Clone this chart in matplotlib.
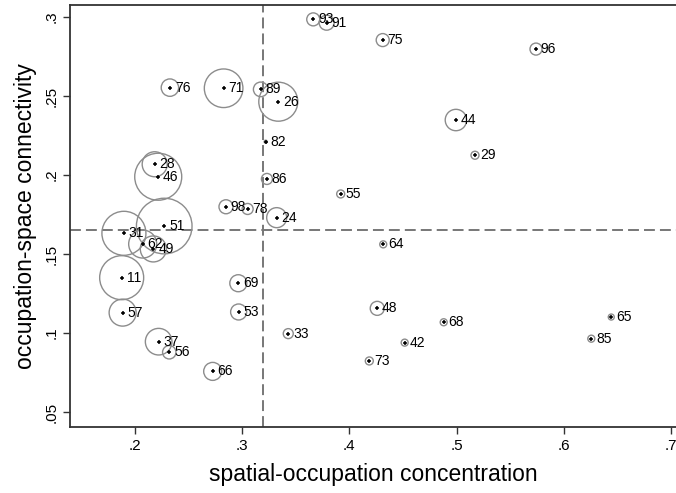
import numpy as np
import matplotlib.pyplot as plt

plt.rcParams['font.family'] = ['Liberation Sans', 'DejaVu Sans']

# 地區編號、座標與權重（圈的半徑，像素）
labels = ['93', '91', '75', '96', '44', '29', '55', '76', '71', '89', '26', '82',
          '28', '46', '86', '98', '78', '24', '51', '31', '62', '49', '11', '69',
          '57', '53', '33', '37', '56', '66', '64', '48', '68', '42', '73', '65', '85']
x = [0.3663, 0.3788, 0.4311, 0.5741, 0.4994, 0.5172, 0.3919, 0.2326, 0.2827, 0.3173,
     0.3337, 0.3219, 0.2184, 0.2217, 0.3231, 0.2849, 0.3051, 0.3322, 0.2273, 0.1897,
     0.2072, 0.2171, 0.1876, 0.2964, 0.1885, 0.2967, 0.3430, 0.2221, 0.2320, 0.2725,
     0.4316, 0.4260, 0.4880, 0.4516, 0.4186, 0.6443, 0.6257]
y = [0.2985, 0.2964, 0.2854, 0.2797, 0.2348, 0.2125, 0.1880, 0.2553, 0.2549, 0.2542,
     0.2464, 0.2211, 0.2068, 0.1989, 0.1975, 0.1799, 0.1785, 0.1730, 0.1677, 0.1631,
     0.1563, 0.1532, 0.1350, 0.1315, 0.1129, 0.1133, 0.0996, 0.0945, 0.0878, 0.0757,
     0.1561, 0.1156, 0.1068, 0.0939, 0.0823, 0.1101, 0.0964]
radius = [6.5, 7.5, 6.5, 6, 10.7, 4, 4, 8.7, 19.3, 7.3, 19.5, 1.5, 12.5, 23.5, 5.5,
          7, 5.5, 10, 27.8, 22, 14, 13, 22, 8.5, 13.5, 8, 5, 13.3, 6.7, 9, 3.5, 7,
          3.5, 3.5, 4, 3, 3.5]

x_mean = 0.3197
y_mean = 0.1652

fig = plt.figure(figsize=(6.76, 4.93), dpi=100)
ax = fig.add_axes([70/676, 66/493, 1 - 70/676, (427 - 5)/493])

r = np.array(radius)
sizes = (2 * r * 72 / 100) ** 2
ax.scatter(x, y, s=sizes, facecolors='none', edgecolors='#8c8c8c', linewidths=1.0, zorder=2)
ax.scatter(x, y, s=12, marker='+', color='black', linewidths=1.1, zorder=3)
for xi, yi, lab in zip(x, y, labels):
    ax.annotate(lab, (xi, yi), xytext=(3.5, 0), textcoords='offset points',
                va='center', ha='left', fontsize=10, zorder=4)

ax.axvline(x_mean, color='#777777', lw=1.4, ls=(0, (5.6, 2.6)), zorder=1)
ax.axhline(y_mean, color='#777777', lw=1.4, ls=(0, (5.6, 2.6)), zorder=1)

ax.set_xlim(0.1394, 0.7047)
ax.set_ylim(0.0405, 0.3076)
ax.set_xticks([0.2, 0.3, 0.4, 0.5, 0.6, 0.7])
ax.set_xticklabels(['.2', '.3', '.4', '.5', '.6', '.7'])
ax.set_yticks([0.05, 0.1, 0.15, 0.2, 0.25, 0.3])
ax.set_yticklabels(['.05', '.1', '.15', '.2', '.25', '.3'], rotation=90, va='center')
ax.tick_params(direction='out', length=5, width=1, labelsize=11, color='#333333')
for side in ['left', 'bottom', 'top']:
    ax.spines[side].set_color('#333333')
    ax.spines[side].set_linewidth(1.3)
ax.spines['right'].set_visible(False)

ax.set_xlabel('spatial-occupation concentration', fontsize=16.5, labelpad=7)
ax.set_ylabel('occupation-space connectivity', fontsize=16.5, labelpad=5)

fig.savefig('out.png', dpi=100)
